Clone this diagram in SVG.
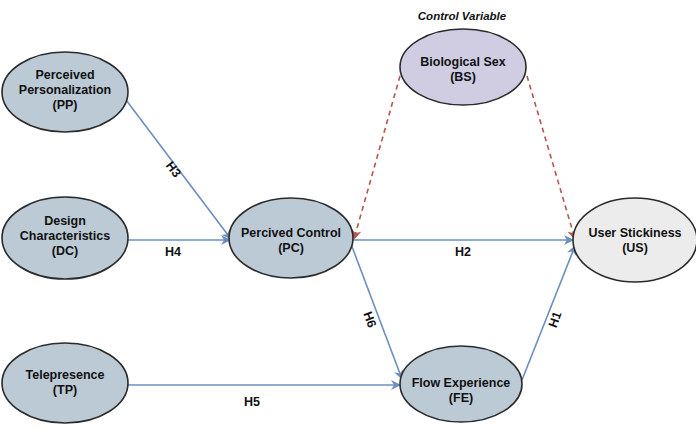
<svg xmlns="http://www.w3.org/2000/svg" width="696" height="431" viewBox="0 0 696 431">
<defs>
<marker id="ab" viewBox="0 0 10 10" refX="9" refY="5" markerWidth="10" markerHeight="10" orient="auto" markerUnits="userSpaceOnUse">
<path d="M0,0 L10,5 L0,10 L3,5 Z" fill="#6c8ebf"/>
</marker>
<marker id="ar" viewBox="0 0 10 10" refX="9" refY="5" markerWidth="10" markerHeight="10" orient="auto" markerUnits="userSpaceOnUse">
<path d="M0,0 L10,5 L0,10 L3,5 Z" fill="#b85450"/>
</marker>
<style>
.n{stroke:#2b2b2b;stroke-width:1.6}
.b{fill:#bccad6}
.t{font-family:"Liberation Sans",Arial,sans-serif;font-weight:bold;font-size:12.5px;fill:#111;text-anchor:middle}
.e{stroke:#6c8ebf;stroke-width:1.6;fill:none}
.d{stroke:#b85450;stroke-width:1.6;fill:none;stroke-dasharray:5,4}
</style>
</defs>
<rect width="696" height="431" fill="#fff"/>
<g id="connectors">
<line class="e" x1="120" y1="92" x2="231" y2="239" marker-end="url(#ab)"/>
<line class="e" x1="128" y1="240" x2="230" y2="240" marker-end="url(#ab)"/>
<line class="e" x1="353" y1="240" x2="573" y2="240" marker-end="url(#ab)"/>
<line class="e" x1="351" y1="244" x2="402" y2="379" marker-end="url(#ab)"/>
<line class="e" x1="128" y1="385" x2="400" y2="385" marker-end="url(#ab)"/>
<line class="e" x1="522" y1="380" x2="575" y2="246" marker-end="url(#ab)"/>
<line class="d" x1="400" y1="76" x2="354" y2="239" marker-end="url(#ar)"/>
<line class="d" x1="527" y1="76" x2="575" y2="239" marker-end="url(#ar)"/>
<text class="t" transform="translate(170,172) rotate(53)">H3</text>
<text class="t" x="173" y="256">H4</text>
<text class="t" x="463" y="256">H2</text>
<text class="t" transform="translate(366,321) rotate(70)">H6</text>
<text class="t" transform="translate(559,321) rotate(-70)">H1</text>
<text class="t" x="252" y="406">H5</text>
</g>
<text x="462" y="20" style="font-family:'Liberation Sans',Arial,sans-serif;font-style:italic;font-weight:600;font-size:11.5px;fill:#111;text-anchor:middle">Control Variable</text>
<g id="PP"><ellipse class="n b" cx="65" cy="92" rx="63" ry="40"/><text class="t" x="65" y="79">Perceived</text><text class="t" x="65" y="94">Personalization</text><text class="t" x="65" y="109">(PP)</text></g>
<g id="DC"><ellipse class="n b" cx="65" cy="238" rx="63" ry="41"/><text class="t" x="65" y="225">Design</text><text class="t" x="65" y="240">Characteristics</text><text class="t" x="65" y="255">(DC)</text></g>
<g id="TP"><ellipse class="n b" cx="65" cy="383" rx="63" ry="40"/><text class="t" x="65" y="379">Telepresence</text><text class="t" x="65" y="394">(TP)</text></g>
<g id="PC"><ellipse class="n b" cx="291" cy="238" rx="62" ry="40"/><text class="t" x="291" y="237">Percived Control</text><text class="t" x="291" y="252">(PC)</text></g>
<g id="BS"><ellipse class="n" fill="#d0cde3" cx="463" cy="67" rx="63" ry="38"/><text class="t" x="463" y="66">Biological Sex</text><text class="t" x="463" y="81">(BS)</text></g>
<g id="US"><ellipse class="n" fill="#ececec" cx="635" cy="240" rx="62" ry="42"/><text class="t" x="635" y="237">User Stickiness</text><text class="t" x="635" y="252">(US)</text></g>
<g id="FE"><ellipse class="n b" cx="461" cy="384" rx="61" ry="38"/><text class="t" x="461" y="387">Flow Experience</text><text class="t" x="461" y="402">(FE)</text></g>
</svg>
